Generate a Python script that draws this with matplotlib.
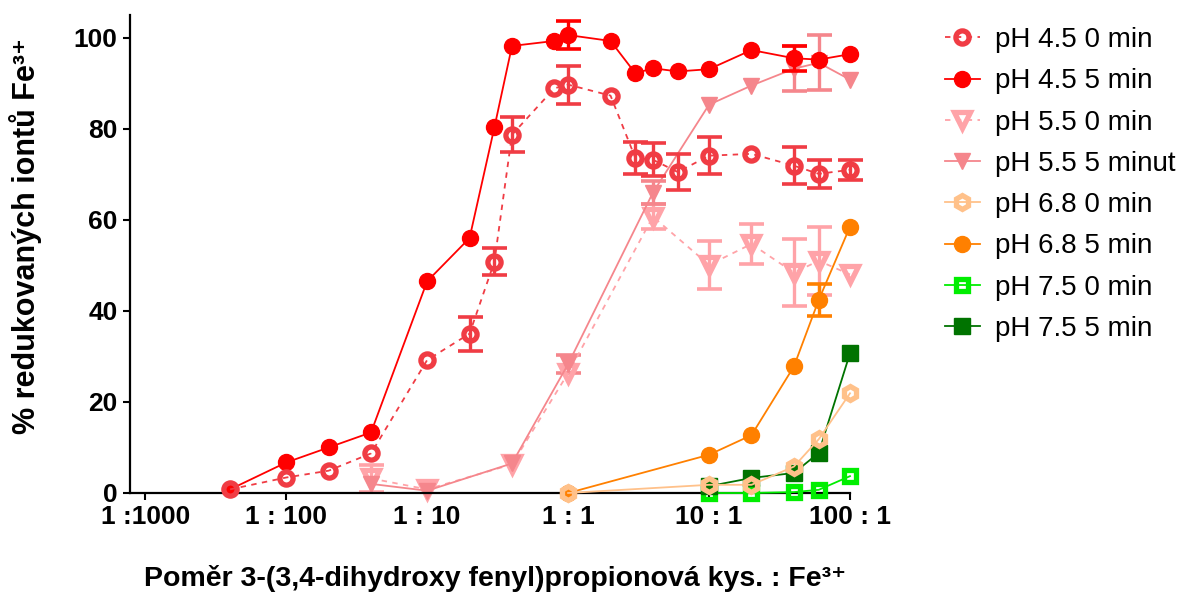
import matplotlib
matplotlib.use("Agg")
import matplotlib.pyplot as plt
import numpy as np

plt.rcParams['font.family'] = ['Liberation Sans', 'DejaVu Sans']

nan = np.nan

# pomery (kyselina : Fe3+)
x45 = [0.004, 0.01, 0.02, 0.04, 0.1, 0.2, 0.3, 0.4, 0.8, 1, 2, 3, 4, 6, 10, 20, 40, 60, 100]
x55 = [0.04, 0.1, 0.4, 1, 4, 10, 20, 40, 60, 100]
x68 = [1, 10, 20, 40, 60, 100]
x75 = [10, 20, 40, 60, 100]

# nan = chybova usecka neni videt (schovana za symbolem)
ph45_0 = [0.8, 3.4, 4.9, 8.7, 29.2, 35.0, 50.8, 78.7, 88.9, 89.7, 87.3, 73.6, 73.2, 70.5, 74.1, 74.5, 71.9, 70.1, 71.0]
ph45_0_err = [nan, nan, nan, nan, nan, 3.7, 3.0, 3.9, nan, 4.2, nan, 3.6, 3.6, 4.0, 4.0, nan, 4.0, 3.0, 2.2]
ph45_5 = [0.8, 6.7, 10.0, 13.3, 46.5, 56.0, 80.3, 98.2, 99.3, 100.6, 99.3, 92.2, 93.3, 92.6, 93.1, 97.3, 95.5, 95.2, 96.4]
ph45_5_err = [nan, nan, nan, nan, nan, nan, nan, nan, nan, 3.0, nan, nan, nan, nan, nan, nan, 2.7, nan, nan]

ph55_0 = [3.2, 0.8, 6.3, 26.3, 60.7, 50.1, 54.7, 48.4, 51.0, 48.0]
ph55_0_err = [3.0, nan, nan, nan, 2.8, 5.3, 4.4, 7.4, 7.5, nan]
ph55_5 = [2.0, 0.5, 6.5, 28.3, 66.0, 85.3, 89.5, 93.2, 94.5, 90.8]
ph55_5_err = [nan, nan, nan, 2.0, 2.5, nan, nan, 5.0, 6.0, nan]

ph68_0 = [0.0, 1.8, 1.8, 5.8, 11.8, 21.9]
ph68_5 = [0.0, 8.4, 12.7, 27.8, 42.4, 58.5]
ph68_5_err = [nan, nan, nan, nan, 3.5, nan]

ph75_0 = [0.0, 0.0, 0.2, 0.7, 3.7]
ph75_5 = [1.5, 3.3, 4.4, 8.8, 30.7]

xticks = [0.001, 0.01, 0.1, 1, 10, 100]
xticklabels = ['1 :1000', '1 : 100', '1 : 10', '1 : 1', '10 : 1', '100 : 1']

fig = plt.figure(figsize=(11.87, 5.94), dpi=100)
ax = fig.add_axes([130 / 1187, 1 - 493 / 594, 720 / 1187, 478 / 594])

handles = []


def series(x, y, err, label, color, marker, ms, filled, dashed, z):
    mfc = color if filled else 'none'
    ls = (0, (3, 3)) if dashed else '-'
    if err is not None:
        ax.errorbar(x, y, yerr=err, fmt='none', ecolor=color, elinewidth=2.4,
                    capsize=9, capthick=2.6, zorder=z, clip_on=False)
    ln, = ax.plot(x, y, linestyle=ls, color=color, lw=1.3, marker=marker, ms=ms,
                  mfc=mfc, mec=color, mew=3.8 if not filled else 1,
                  label=label, zorder=z + 0.5, clip_on=False)
    handles.append(ln)


series(x45, ph45_0, ph45_0_err, 'pH 4.5 0 min', '#F03C44', 'o', 9.5, False, True, 4)
series(x45, ph45_5, ph45_5_err, 'pH 4.5 5 min', '#FF0000', 'o', 11.5, True, False, 3)
series(x55, ph55_0, ph55_0_err, 'pH 5.5 0 min', '#FFA3A8', 'v', 11, False, True, 2)
series(x55, ph55_5, ph55_5_err, 'pH 5.5 5 minut', '#F5868C', 'v', 12, True, False, 2)
series(x68, ph68_0, None, 'pH 6.8 0 min', '#FFC18A', 'h', 10, False, False, 7)
series(x68, ph68_5, ph68_5_err, 'pH 6.8 5 min', '#FF8000', 'o', 11.5, True, False, 6)
series(x75, ph75_0, None, 'pH 7.5 0 min', '#00EE00', 's', 9, False, False, 5)
series(x75, ph75_5, None, 'pH 7.5 5 min', '#007300', 's', 11, True, False, 5)

ax.set_xscale('log')
ax.set_xlim(0.00078, 100)
ax.set_ylim(0, 105)
ax.set_xticks(xticks)
ax.set_xticklabels(xticklabels)
ax.minorticks_off()
ax.set_yticks([0, 20, 40, 60, 80, 100])
ax.tick_params(axis='both', direction='out', length=5, width=1.5, labelsize=19, pad=4)
for t in ax.get_xticklabels() + ax.get_yticklabels():
    t.set_fontweight('bold')
for s in ['top', 'right']:
    ax.spines[s].set_visible(False)
for s in ['left', 'bottom']:
    ax.spines[s].set_linewidth(1.6)

fig.text(26 / 1187, 1 - 236 / 594, '% redukovaných iontů Fe³⁺', rotation=90,
         ha='center', va='center', fontsize=22, fontweight='bold')
fig.text(495 / 1187, 1 - 578 / 594, 'Poměr 3-(3,4-dihydroxy fenyl)propionová kys. : Fe³⁺',
         ha='center', va='center', fontsize=20.5, fontweight='bold')

fig.legend(handles=handles, loc='upper left', bbox_to_anchor=(945 / 1187, 1 - 27 / 594),
           frameon=False, fontsize=20, handlelength=1.25, handletextpad=0.55,
           labelspacing=0.55, borderpad=0, borderaxespad=0)

fig.savefig('out.png', dpi=100)
